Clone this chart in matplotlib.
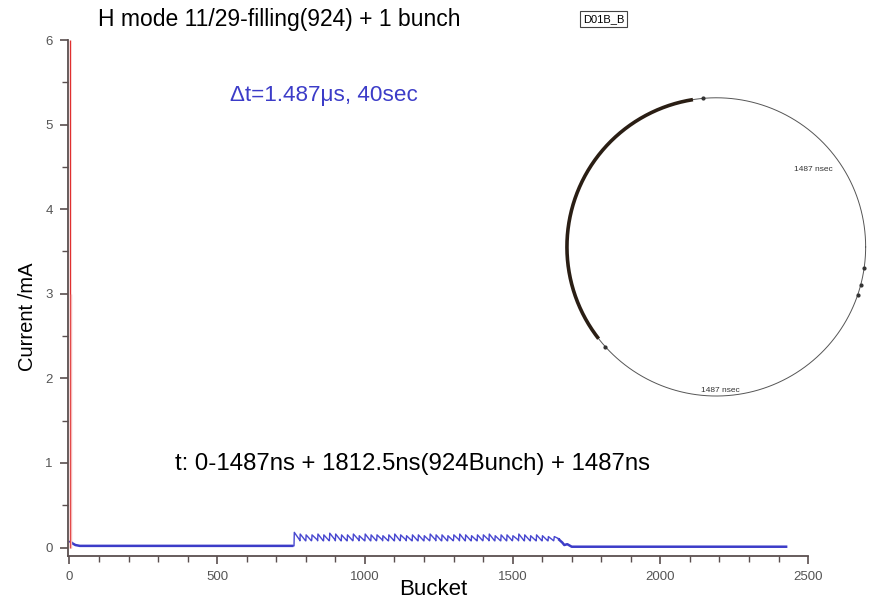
import matplotlib.pyplot as plt
import numpy as np
from matplotlib.ticker import MultipleLocator

plt.rcParams['font.family'] = ['Liberation Sans', 'DejaVu Sans']

# baseline (blue) before and after the bunch train
base_x = [0, 3, 10, 20, 35, 60, 200, 400, 600, 758]
base_y = [0.06, 0.07, 0.05, 0.03, 0.02, 0.02, 0.02, 0.02, 0.02, 0.02]
tail_x = [1655, 1668, 1675, 1685, 1700, 1800, 2000, 2200, 2430]
tail_y = [0.10, 0.06, 0.03, 0.04, 0.01, 0.01, 0.01, 0.01, 0.01]

# bunch train sawtooth: start bucket of every tooth, peak and trough values
tooth_start = [760, 780, 800, 820, 840, 860, 880, 900, 920, 940, 960, 980,
               1000, 1020, 1040, 1060, 1080, 1100, 1120, 1140, 1160, 1180,
               1200, 1220, 1240, 1260, 1280, 1300, 1320, 1340, 1360, 1380,
               1400, 1420, 1440, 1460, 1480, 1500, 1520, 1540, 1560, 1580,
               1600, 1620, 1640]
tooth_peak = [0.18, 0.16, 0.15, 0.15, 0.16, 0.15, 0.17, 0.16, 0.15, 0.15,
              0.16, 0.14, 0.16, 0.15, 0.15, 0.14, 0.15, 0.16, 0.15, 0.14,
              0.15, 0.15, 0.14, 0.16, 0.15, 0.15, 0.14, 0.15, 0.16, 0.15,
              0.14, 0.15, 0.15, 0.16, 0.14, 0.15, 0.15, 0.14, 0.16, 0.15,
              0.14, 0.15, 0.14, 0.13, 0.13]
tooth_low = [0.09, 0.08, 0.08, 0.09, 0.08, 0.08, 0.09, 0.08, 0.08, 0.08,
             0.09, 0.08, 0.08, 0.08, 0.09, 0.08, 0.08, 0.08, 0.09, 0.08,
             0.08, 0.08, 0.08, 0.09, 0.08, 0.08, 0.08, 0.09, 0.08, 0.08,
             0.08, 0.08, 0.09, 0.08, 0.08, 0.08, 0.08, 0.09, 0.08, 0.08,
             0.08, 0.08, 0.08, 0.08, 0.10]
tooth_width = 20

# single bunch spikes (red)
spike_x = [2, 6]
spike_y = [6.0, 3.0]
spike_colors = ['#e03030', '#f4b8b8']

# fill pattern circle (degrees, counter-clockwise from +x)
circle_theta = [0, 360]
train_arc = [99, 218]
bunch_dots = [95, 222, 341, 345, 352]

title = "H mode 11/29-filling(924) + 1 bunch"
note_dt = "\u0394t=1.487\u03bcs, 40sec"
note_t = "t: 0-1487ns + 1812.5ns(924Bunch) + 1487ns"

fig = plt.figure(figsize=(8.73, 6.0), dpi=100)
ax = fig.add_axes([0.0779, 0.0733, 0.8477, 0.86])

axis_col = '#5a4f4f'
blue = '#3c3cc8'

# sawtooth built from the tooth lists
saw_x, saw_y = [758], [0.02]
for s, p, lo in zip(tooth_start, tooth_peak, tooth_low):
    saw_x += [s, s + 1, s + tooth_width - 1]
    saw_y += [lo if s > 760 else 0.02, p, lo]
saw_x.append(tail_x[0])
saw_y.append(tail_y[0])

ax.plot(base_x, base_y, color=blue, lw=1.8, solid_capstyle='butt')
ax.plot(saw_x, saw_y, color='#4848d0', lw=1.0)
ax.plot(tail_x, tail_y, color=blue, lw=1.8, solid_capstyle='butt')
for sx, sy, c in zip(spike_x, spike_y, spike_colors):
    ax.vlines(sx, 0, sy, color=c, lw=1.0)

ax.set_xlim(-5, 2500)
ax.set_ylim(-0.1, 6)
ax.xaxis.set_major_locator(MultipleLocator(500))
ax.xaxis.set_minor_locator(MultipleLocator(100))
ax.yaxis.set_major_locator(MultipleLocator(1))
ax.yaxis.set_minor_locator(MultipleLocator(0.5))
for side in ['top', 'right']:
    ax.spines[side].set_visible(False)
for side in ['left', 'bottom']:
    ax.spines[side].set_color(axis_col)
    ax.spines[side].set_linewidth(1.3)
ax.tick_params(which='major', direction='out', length=6, width=1.2,
               color=axis_col, labelsize=9.5, labelcolor='#555555', pad=5)
ax.tick_params(which='minor', direction='out', length=4, width=1.0,
               color=axis_col)
fig.text(0.031, 0.472, 'Current /mA', fontsize=14.5, rotation=90,
         ha='center', va='center')
fig.text(0.496, 0.017, 'Bucket', fontsize=16, ha='center', va='center')

fig.text(0.320, 0.968, title, fontsize=16.5, ha='center', va='center')
fig.text(0.6915, 0.968, 'D01B_B', fontsize=8, ha='center', va='center',
         bbox=dict(boxstyle='square,pad=0.25', fc='white', ec='#444444', lw=0.8))
ax.text(0.264, 0.84, note_dt, transform=fig.transFigure, fontsize=16.2,
        color=blue, ha='left', va='center')
ax.text(0.2, 0.227, note_t, transform=fig.transFigure, fontsize=17.3,
        ha='left', va='center')

# inset circle
cax = fig.add_axes([0.646, 0.335, 0.349, 0.507])
cax.set_xlim(-1.02, 1.02)
cax.set_ylim(-1.02, 1.02)
cax.axis('off')
th = np.radians(np.linspace(circle_theta[0], circle_theta[1], 720))
cax.plot(np.cos(th), np.sin(th), color='#555555', lw=0.7)
tha = np.radians(np.linspace(train_arc[0], train_arc[1], 300))
cax.plot(np.cos(tha), np.sin(tha), color='#2a1e14', lw=2.6, solid_capstyle='butt')
for d in bunch_dots:
    r = np.radians(d)
    cax.plot(np.cos(r), np.sin(r), 'o', color='#333333', ms=2)
cax.text(0.65, 0.52, '1487 nsec', fontsize=6, ha='center', va='center', color='#333333')
cax.text(0.03, -0.96, '1487 nsec', fontsize=6, ha='center', va='center', color='#333333')

plt.savefig('out.png', dpi=100)
